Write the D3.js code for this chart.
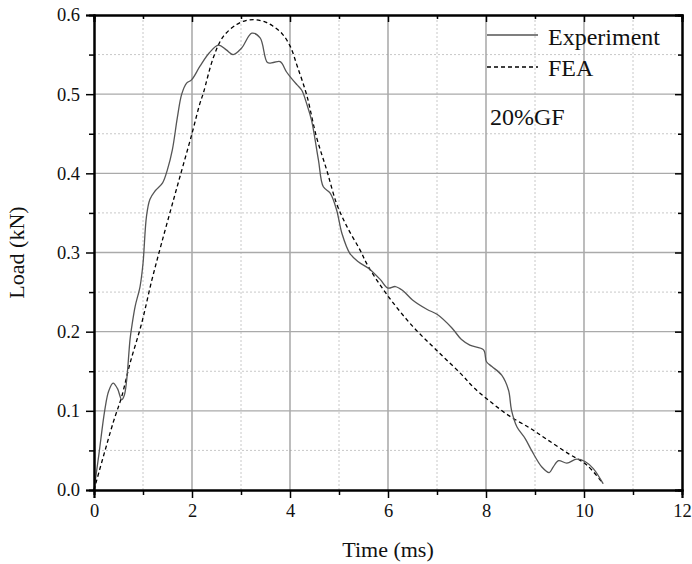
<!DOCTYPE html>
<html>
<head>
<meta charset="utf-8">
<script src="https://cdn.jsdelivr.net/npm/d3@7"></script>
<style>
  body { margin: 0; background: #fff; }
  svg { display: block; font-family: "Liberation Serif", "Times New Roman", serif; }
</style>
</head>
<body>
<div id="chart"></div>
<script>
// data
var expTime = [0, 0.1, 0.22, 0.3, 0.39, 0.48, 0.565, 0.62, 0.667, 0.735, 0.77, 0.84, 0.94, 1.0, 1.07, 1.14, 1.25, 1.4, 1.5, 1.6, 1.7, 1.79, 1.89, 1.99, 2.16, 2.35, 2.54, 2.7, 2.84, 3.01, 3.22, 3.39, 3.54, 3.66, 3.8, 3.93, 4.03, 4.14, 4.24, 4.34, 4.44, 4.58, 4.68, 4.82, 4.95, 5.06, 5.22, 5.4, 5.6, 5.84, 6.0, 6.15, 6.3, 6.5, 6.8, 7.0, 7.3, 7.5, 7.67, 7.95, 8.01, 8.12, 8.32, 8.46, 8.52, 8.63, 8.8, 8.93, 9.14, 9.29, 9.37, 9.48, 9.65, 9.85, 10.02, 10.19, 10.39];
var expLoad = [0, 0.045, 0.101, 0.125, 0.135, 0.128, 0.114, 0.12, 0.139, 0.19, 0.206, 0.232, 0.257, 0.286, 0.345, 0.367, 0.378, 0.388, 0.405, 0.43, 0.47, 0.5, 0.514, 0.518, 0.535, 0.552, 0.562, 0.556, 0.55, 0.558, 0.577, 0.571, 0.54, 0.54, 0.541, 0.528, 0.52, 0.512, 0.505, 0.488, 0.467, 0.417, 0.383, 0.375, 0.354, 0.324, 0.299, 0.288, 0.28, 0.266, 0.255, 0.257, 0.252, 0.24, 0.228, 0.222, 0.205, 0.19, 0.183, 0.177, 0.162, 0.156, 0.145, 0.126, 0.101, 0.08, 0.065, 0.05, 0.029, 0.022, 0.029, 0.037, 0.034, 0.039, 0.036, 0.027, 0.008];

var feaTime = [0, 0.39, 0.565, 0.735, 0.97, 1.18, 1.38, 1.62, 1.755, 1.99, 2.16, 2.23, 2.44, 2.64, 2.91, 3.1, 3.3, 3.5, 3.65, 3.83, 4.0, 4.15, 4.34, 4.54, 4.75, 4.95, 5.16, 5.43, 5.6, 6.0, 6.5, 7.0, 7.5, 7.74, 8.08, 8.49, 8.9, 9.24, 9.68, 10.05, 10.39];
var feaLoad = [0, 0.085, 0.118, 0.16, 0.21, 0.265, 0.312, 0.366, 0.396, 0.448, 0.488, 0.501, 0.547, 0.573, 0.588, 0.593, 0.594, 0.591, 0.586, 0.577, 0.561, 0.535, 0.499, 0.446, 0.404, 0.362, 0.333, 0.303, 0.282, 0.245, 0.207, 0.176, 0.146, 0.13, 0.112, 0.093, 0.078, 0.064, 0.046, 0.032, 0.008];

var xMajor = [0, 2, 4, 6, 8, 10, 12];
var xMinor = [1, 3, 5, 7, 9, 11];
var yMajor = [0, 0.1, 0.2, 0.3, 0.4, 0.5, 0.6];
var yMinor = [0.05, 0.15, 0.25, 0.35, 0.45, 0.55];

var W = 692, H = 564;
var x = d3.scaleLinear().domain([0, 12]).range([94, 682]);
var y = d3.scaleLinear().domain([0, 0.6]).range([490, 15]);

var svg = d3.select("#chart").append("svg")
    .attr("width", W)
    .attr("height", H);

// grid: minor dotted first, then major solid
var grid = svg.append("g");
grid.selectAll(".vmin").data(xMinor).enter().append("line")
    .attr("x1", d => x(d)).attr("x2", d => x(d))
    .attr("y1", y(0)).attr("y2", y(0.6))
    .attr("stroke", "#c8c8c8").attr("stroke-width", 1).attr("stroke-dasharray", "2,2");
grid.selectAll(".hmin").data(yMinor).enter().append("line")
    .attr("x1", x(0)).attr("x2", x(12))
    .attr("y1", d => y(d)).attr("y2", d => y(d))
    .attr("stroke", "#c8c8c8").attr("stroke-width", 1).attr("stroke-dasharray", "2,2");
grid.selectAll(".vmaj").data(xMajor.slice(1, -1)).enter().append("line")
    .attr("x1", d => x(d)).attr("x2", d => x(d))
    .attr("y1", y(0)).attr("y2", y(0.6))
    .attr("stroke", "#999").attr("stroke-width", 1.3);
grid.selectAll(".hmaj").data(yMajor.slice(1, -1)).enter().append("line")
    .attr("x1", x(0)).attr("x2", x(12))
    .attr("y1", d => y(d)).attr("y2", d => y(d))
    .attr("stroke", "#aaa").attr("stroke-width", 1.3);

// curves
var expPts = expTime.map((t, i) => [t, expLoad[i]]);
var feaPts = feaTime.map((t, i) => [t, feaLoad[i]]);
var line = d3.line()
    .x(d => x(d[0]))
    .y(d => y(d[1]))
    .curve(d3.curveCatmullRom.alpha(0.5));

svg.append("path").datum(feaPts)
    .attr("d", line)
    .attr("fill", "none")
    .attr("stroke", "#000")
    .attr("stroke-width", 1.3)
    .attr("stroke-dasharray", "4,3");
svg.append("path").datum(expPts)
    .attr("d", line)
    .attr("fill", "none")
    .attr("stroke", "#555")
    .attr("stroke-width", 1.3);

// axes: outward ticks on left/bottom, inward on top/right
var axBottom = svg.append("g").attr("transform", "translate(0," + y(0) + ")");
axBottom.call(d3.axisBottom(x).tickValues(xMajor).tickSize(8).tickPadding(6).tickFormat(d3.format("d")));
var axBottomMinor = svg.append("g").attr("transform", "translate(0," + y(0) + ")");
axBottomMinor.call(d3.axisBottom(x).tickValues(xMinor).tickSize(5).tickFormat(""));

var axLeft = svg.append("g").attr("transform", "translate(" + x(0) + ",0)");
axLeft.call(d3.axisLeft(y).tickValues(yMajor).tickSize(8).tickPadding(6).tickFormat(d3.format(".1f")));
var axLeftMinor = svg.append("g").attr("transform", "translate(" + x(0) + ",0)");
axLeftMinor.call(d3.axisLeft(y).tickValues(yMinor).tickSize(5).tickFormat(""));

var axTop = svg.append("g").attr("transform", "translate(0," + y(0.6) + ")");
axTop.call(d3.axisTop(x).tickValues(xMajor).tickSize(-7).tickFormat(""));
var axTopMinor = svg.append("g").attr("transform", "translate(0," + y(0.6) + ")");
axTopMinor.call(d3.axisTop(x).tickValues(xMinor).tickSize(-4).tickFormat(""));

var axRight = svg.append("g").attr("transform", "translate(" + x(12) + ",0)");
axRight.call(d3.axisRight(y).tickValues(yMajor).tickSize(-7).tickFormat(""));
var axRightMinor = svg.append("g").attr("transform", "translate(" + x(12) + ",0)");
axRightMinor.call(d3.axisRight(y).tickValues(yMinor).tickSize(-4).tickFormat(""));

svg.selectAll(".domain").attr("stroke", "#000").attr("stroke-width", 2);
svg.selectAll(".tick line").attr("stroke", "#000").attr("stroke-width", 1.5);
svg.selectAll(".tick text")
    .attr("fill", "#111")
    .style("font-family", "'Liberation Serif', serif")
    .style("font-size", "18.5px");

// axis titles
svg.append("text")
    .attr("x", (x(0) + x(12)) / 2)
    .attr("y", 557)
    .attr("text-anchor", "middle")
    .style("font-size", "22px")
    .attr("fill", "#111")
    .text("Time (ms)");
svg.append("text")
    .attr("transform", "translate(24," + (y(0.3)) + ") rotate(-90)")
    .attr("text-anchor", "middle")
    .style("font-size", "22px")
    .attr("fill", "#111")
    .text("Load (kN)");

// legend
var legend = svg.append("g");
legend.append("line")
    .attr("x1", 487).attr("x2", 538).attr("y1", 35).attr("y2", 35)
    .attr("stroke", "#555").attr("stroke-width", 1.3);
legend.append("text")
    .attr("x", 548).attr("y", 44.5)
    .style("font-size", "24px").attr("fill", "#111")
    .text("Experiment");
legend.append("line")
    .attr("x1", 487).attr("x2", 538).attr("y1", 67).attr("y2", 67)
    .attr("stroke", "#000").attr("stroke-width", 1.3)
    .attr("stroke-dasharray", "4,3");
legend.append("text")
    .attr("x", 548).attr("y", 76)
    .style("font-size", "24px").attr("fill", "#111")
    .text("FEA");

svg.append("text")
    .attr("x", 490).attr("y", 125)
    .style("font-size", "24px").attr("fill", "#111")
    .text("20%GF");
</script>
</body>
</html>
